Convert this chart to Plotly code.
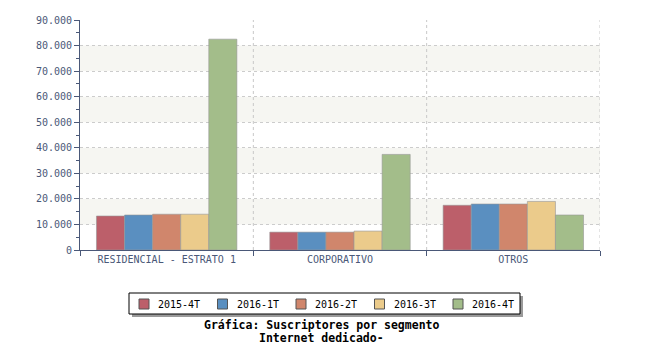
import plotly.graph_objects as go

categories = ["RESIDENCIAL - ESTRATO 1", "CORPORATIVO", "OTROS"]
series_names = ["2015-4T", "2016-1T", "2016-2T", "2016-3T", "2016-4T"]
v_2015_4T = [13300, 7000, 17500]
v_2016_1T = [13700, 7000, 18000]
v_2016_2T = [14000, 7000, 18000]
v_2016_3T = [14000, 7400, 19000]
v_2016_4T = [82500, 37400, 13700]
series_values = [v_2015_4T, v_2016_1T, v_2016_2T, v_2016_3T, v_2016_4T]
colors = ["#bc5f6a", "#5a8fc0", "#d0866c", "#ebcb8b", "#a3bd8a"]
title_lines = ["Gráfica: Suscriptores por segmento", "Internet dedicado-"]

W, H = 650, 350
L, R, T, B = 80, 50, 20, 100
pw, ph = W - L - R, H - T - B

def px(x):
    return (x - L) / pw

def py(y):
    return (H - B - y) / ph

font = "DejaVu Sans Mono"
axcol = "#4a5878"

fig = go.Figure()
for name, vals, c in zip(series_names, series_values, colors):
    fig.add_trace(go.Bar(
        x=categories, y=vals, name=name, showlegend=False,
        marker=dict(color=c, line=dict(color="rgba(150,150,150,0.6)", width=1)),
    ))

shapes = []
for lo in [10000, 30000, 50000, 70000]:
    shapes.append(dict(type="rect", xref="paper", yref="y", x0=0, x1=1, y0=lo, y1=lo + 10000,
                       fillcolor="#f6f6f2", line=dict(width=0), layer="below"))
for xb in [0.5, 1.5, 2.5]:
    shapes.append(dict(type="line", xref="x", yref="paper", x0=xb, x1=xb, y0=0, y1=1,
                       line=dict(color="#c8c8c8", width=1, dash="dot"), layer="below"))

# legend box (drawn manually to match the compact original layout)
lg_x0, lg_x1, lg_y0, lg_y1 = 129, 520, 293, 314
shapes.append(dict(type="rect", xref="paper", yref="paper",
                   x0=px(lg_x0 + 3), x1=px(lg_x1 + 3), y0=py(lg_y1 + 3), y1=py(lg_y0 + 3),
                   fillcolor="#9a9a9a", line=dict(width=0)))
shapes.append(dict(type="rect", xref="paper", yref="paper",
                   x0=px(lg_x0), x1=px(lg_x1), y0=py(lg_y1), y1=py(lg_y0),
                   fillcolor="white", line=dict(color="black", width=1)))
annotations = []
step = 78.5
for i, (name, c) in enumerate(zip(series_names, colors)):
    sx = 139 + i * step
    shapes.append(dict(type="rect", xref="paper", yref="paper",
                       x0=px(sx), x1=px(sx + 10), y0=py(309), y1=py(299),
                       fillcolor=c, line=dict(color="#555555", width=1)))
    annotations.append(dict(text=name, xref="paper", yref="paper", x=px(sx + 17), y=py(304),
                            xanchor="left", yanchor="middle", showarrow=False,
                            font=dict(family=font, size=10, color="black")))

annotations += [
    dict(text="<b>" + title_lines[0] + "</b>", xref="paper", yref="paper",
         x=px(321), y=py(325), xanchor="center", yanchor="middle", showarrow=False,
         font=dict(family=font, size=11.5, color="black")),
    dict(text="<b>" + title_lines[1] + "</b>", xref="paper", yref="paper",
         x=px(321), y=py(338), xanchor="center", yanchor="middle", showarrow=False,
         font=dict(family=font, size=11.5, color="black")),
]

fig.update_layout(
    width=W, height=H,
    margin=dict(l=L, r=R, t=T, b=B),
    paper_bgcolor="white", plot_bgcolor="white",
    separators=",.",
    barmode="group", bargap=0.19, bargroupgap=0,
    font=dict(family=font, size=10, color=axcol),
    shapes=shapes,
    annotations=annotations,
    showlegend=False,
)
fig.update_xaxes(
    range=[-0.5, 2.5], showgrid=False, showline=True, linecolor=axcol, linewidth=1,
    ticks="outside", tickson="boundaries", ticklen=5, tickcolor=axcol,
    tickfont=dict(family=font, size=10, color=axcol),
)
fig.update_yaxes(
    range=[0, 90000], dtick=10000, tickformat=",d",
    showgrid=True, gridcolor="#cccccc", griddash="dot", gridwidth=1,
    showline=True, linecolor=axcol, linewidth=1,
    ticks="outside", ticklen=5, tickcolor=axcol,
    minor=dict(dtick=5000, ticks="outside", ticklen=3, tickcolor=axcol, showgrid=False),
    zeroline=False,
    tickfont=dict(family=font, size=10, color=axcol),
)
fig.write_html("out.html")
